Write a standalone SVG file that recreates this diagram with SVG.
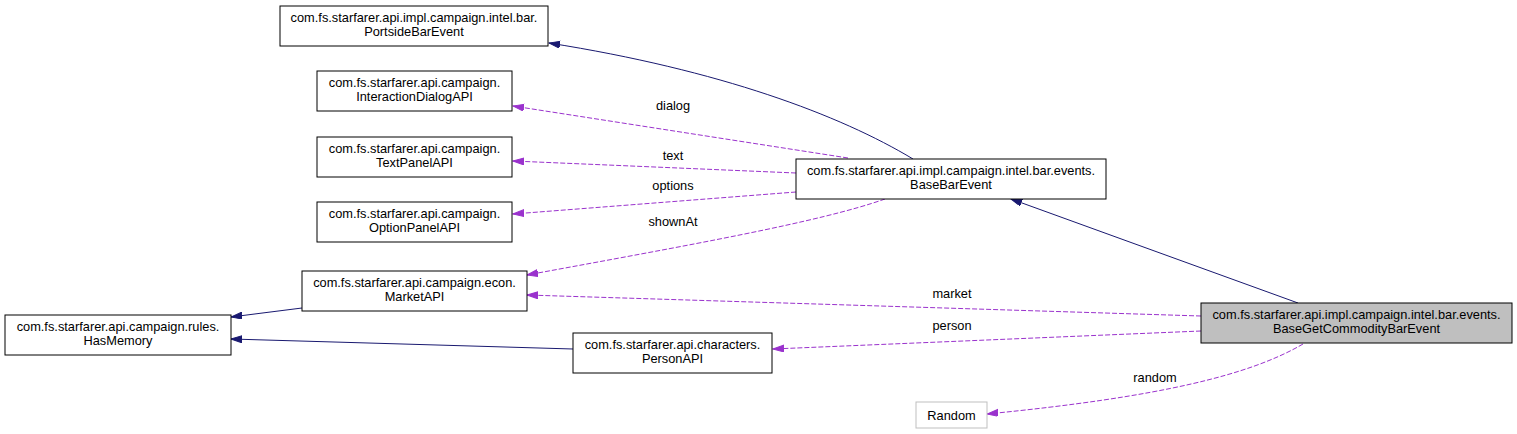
<svg xmlns="http://www.w3.org/2000/svg" width="1517" height="434" viewBox="0 0 1517 434">
<style>
  .node rect { fill: #ffffff; stroke: #000000; stroke-width: 1; }
  .node text, .lbl { font-family: "Liberation Sans", Arial, sans-serif; font-size: 12.8px; fill: #000000; text-anchor: middle; }
  .inh { fill: none; stroke: #191970; stroke-width: 1; marker-end: url(#arrNavy); }
  .use { fill: none; stroke: #9a32cd; stroke-width: 1; stroke-dasharray: 5,2; marker-end: url(#arrPurple); }
</style>
<defs>
  <marker id="arrNavy" markerUnits="userSpaceOnUse" markerWidth="12" markerHeight="8" refX="11" refY="3.5" orient="auto">
    <path d="M0,0 L11,3.5 L0,7 z" fill="#191970" stroke="#191970" stroke-width="1"/>
  </marker>
  <marker id="arrPurple" markerUnits="userSpaceOnUse" markerWidth="12" markerHeight="8" refX="11" refY="3.5" orient="auto">
    <path d="M0,0 L11,3.5 L0,7 z" fill="#9a32cd" stroke="#9a32cd" stroke-width="1"/>
  </marker>
</defs>
<rect x="0" y="0" width="1517" height="434" fill="#ffffff"/>

<g id="connectors">
  <path class="inh" d="M913,159 C840,115 720,70 549,43"/>
  <path class="use" d="M848,158 L513,106"/>
  <path class="use" d="M796,173 L513,161"/>
  <path class="use" d="M796,192 L513,214"/>
  <path class="use" d="M885,199 C820,222 690,245 527,275"/>
  <path class="use" d="M1201,316 L527,295"/>
  <path class="use" d="M1201,331 L773,349"/>
  <path class="use" d="M1303,344 C1250,375 1160,397 987,414"/>
  <path class="inh" d="M1298,303 L1011,199"/>
  <path class="inh" d="M302,308 L231,317"/>
  <path class="inh" d="M573,349 L231,339"/>
  <text class="lbl" x="673" y="110">dialog</text>
  <text class="lbl" x="673" y="160">text</text>
  <text class="lbl" x="673" y="190">options</text>
  <text class="lbl" x="673" y="226">shownAt</text>
  <text class="lbl" x="952" y="298">market</text>
  <text class="lbl" x="952" y="330">person</text>
  <text class="lbl" x="1155" y="382">random</text>
</g>

<g id="PortsideBarEvent" class="node">
  <rect x="280" y="6" width="268" height="40"/>
  <text x="414" y="21.5">com.fs.starfarer.api.impl.campaign.intel.bar.</text>
  <text x="414" y="36">PortsideBarEvent</text>
</g>
<g id="InteractionDialogAPI" class="node">
  <rect x="317" y="71" width="195" height="40"/>
  <text x="414.5" y="86.5">com.fs.starfarer.api.campaign.</text>
  <text x="414.5" y="101">InteractionDialogAPI</text>
</g>
<g id="TextPanelAPI" class="node">
  <rect x="317" y="137" width="195" height="40"/>
  <text x="414.5" y="152.5">com.fs.starfarer.api.campaign.</text>
  <text x="414.5" y="167">TextPanelAPI</text>
</g>
<g id="OptionPanelAPI" class="node">
  <rect x="317" y="202" width="195" height="40"/>
  <text x="414.5" y="217.5">com.fs.starfarer.api.campaign.</text>
  <text x="414.5" y="232">OptionPanelAPI</text>
</g>
<g id="MarketAPI" class="node">
  <rect x="302" y="271" width="225" height="40"/>
  <text x="414.5" y="286.5">com.fs.starfarer.api.campaign.econ.</text>
  <text x="414.5" y="301">MarketAPI</text>
</g>
<g id="HasMemory" class="node">
  <rect x="5" y="315" width="226" height="40"/>
  <text x="118" y="330.5">com.fs.starfarer.api.campaign.rules.</text>
  <text x="118" y="345">HasMemory</text>
</g>
<g id="PersonAPI" class="node">
  <rect x="573" y="333" width="199" height="40"/>
  <text x="672.5" y="348.5">com.fs.starfarer.api.characters.</text>
  <text x="672.5" y="363">PersonAPI</text>
</g>
<g id="BaseBarEvent" class="node">
  <rect x="796" y="159" width="310" height="40"/>
  <text x="951" y="174.5">com.fs.starfarer.api.impl.campaign.intel.bar.events.</text>
  <text x="951" y="189">BaseBarEvent</text>
</g>
<g id="BaseGetCommodityBarEvent" class="node">
  <rect x="1201" y="303" width="311" height="40" style="fill:#bfbfbf"/>
  <text x="1356.5" y="318.5">com.fs.starfarer.api.impl.campaign.intel.bar.events.</text>
  <text x="1356.5" y="333">BaseGetCommodityBarEvent</text>
</g>
<g id="Random" class="node">
  <rect x="916" y="402" width="71" height="26" style="stroke:#bfbfbf"/>
  <text x="951.5" y="419.5">Random</text>
</g>
</svg>
